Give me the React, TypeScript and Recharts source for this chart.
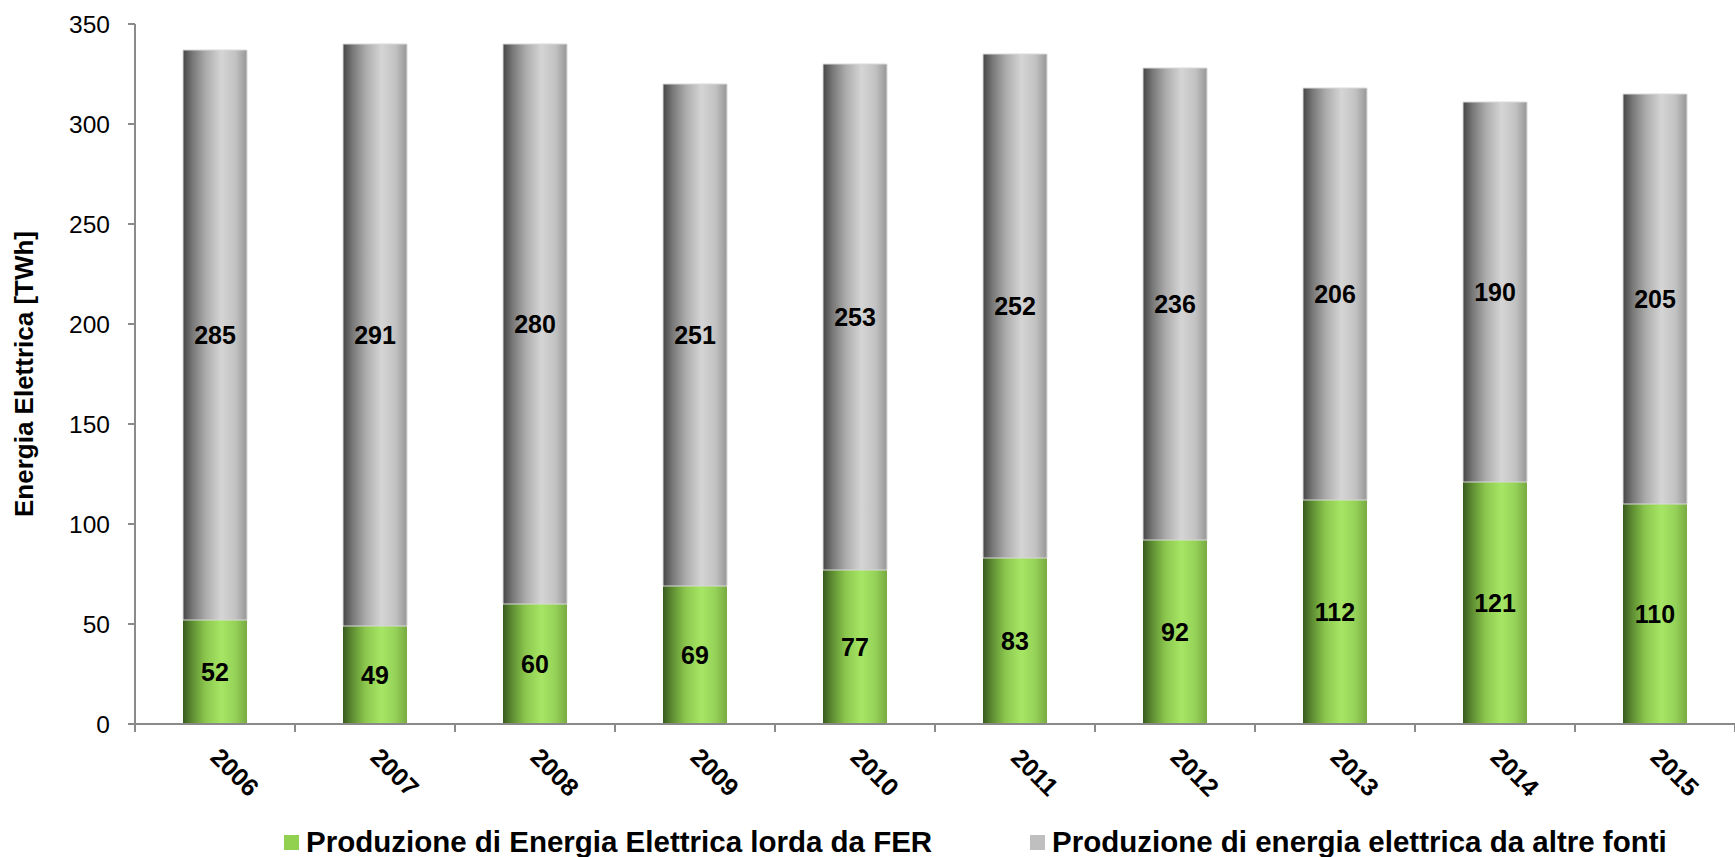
import React from 'react';
import { BarChart, Bar, XAxis, YAxis, Legend, LabelList } from 'recharts';

const years = ['2006', '2007', '2008', '2009', '2010', '2011', '2012', '2013', '2014', '2015'];
const ferValues = [52, 49, 60, 69, 77, 83, 92, 112, 121, 110];
const otherValues = [285, 291, 280, 251, 253, 252, 236, 206, 190, 205];
const yTicks = [0, 50, 100, 150, 200, 250, 300, 350];

const seriesNames = {
  fer: 'Produzione di Energia Elettrica lorda da FER',
  other: 'Produzione di energia elettrica da altre fonti',
};

const FONT = '"Liberation Sans", Arial, sans-serif';
const AXIS = '#8a8a8a';

const data = years.map((year, i) => ({ year, fer: ferValues[i], other: otherValues[i] }));

const XTick = (props: any) => {
  const { x, y, payload, index } = props;
  const half = payload && payload.offset ? payload.offset : 80;
  const last = index === years.length - 1;
  return (
    <g>
      <line x1={x - half} y1={y} x2={x - half} y2={y + 8} stroke={AXIS} strokeWidth={2} />
      {last && <line x1={x + half} y1={y} x2={x + half} y2={y + 8} stroke={AXIS} strokeWidth={2} />}
      <text
        x={x + 20}
        y={y + 48}
        transform={`rotate(45 ${x + 20} ${y + 48})`}
        textAnchor="middle"
        dominantBaseline="central"
        fontFamily={FONT}
        fontSize={25}
        fontWeight={700}
        fill="#000"
      >
        {payload.value}
      </text>
    </g>
  );
};

const YLabel = (props: any) => {
  const { viewBox } = props;
  const cy = viewBox.y + viewBox.height / 2;
  return (
    <text
      x={24}
      y={cy}
      transform={`rotate(-90 24 ${cy})`}
      textAnchor="middle"
      dominantBaseline="central"
      fontFamily={FONT}
      fontSize={26}
      fontWeight={700}
      fill="#000"
    >
      Energia Elettrica [TWh]
    </text>
  );
};

const LegendContent = () => {
  const items = [
    { name: seriesNames.fer, color: '#92d050', left: 284 },
    { name: seriesNames.other, color: '#bfbfbf', left: 1030 },
  ];
  return (
    <div style={{ position: 'relative', width: 1735, height: 40 }}>
      {items.map((it) => (
        <div
          key={it.name}
          style={{
            position: 'absolute',
            left: it.left,
            top: 10,
            height: 30,
            display: 'flex',
            alignItems: 'center',
            whiteSpace: 'nowrap',
          }}
        >
          <span style={{ width: 15, height: 15, background: it.color, display: 'inline-block', marginRight: 7 }} />
          <span style={{ fontFamily: FONT, fontSize: 29.5, fontWeight: 700, color: '#000', lineHeight: '30px' }}>
            {it.name}
          </span>
        </div>
      ))}
    </div>
  );
};

const labelStyle = { fontFamily: FONT, fontSize: 25, fontWeight: 700 };

export default function App() {
  return (
    <div style={{ position: 'absolute', left: 0, top: 0, width: 1735, height: 857, background: '#fff' }}>
      <BarChart
        width={1735}
        height={857}
        data={data}
        margin={{ top: 24, right: 0, bottom: 0, left: 0 }}
        barCategoryGap="30%"
      >
        <defs>
          <linearGradient id="grayGrad" x1="0" y1="0" x2="1" y2="0">
            <stop offset="0%" stopColor="#464646" />
            <stop offset="15%" stopColor="#787878" />
            <stop offset="35%" stopColor="#aaaaaa" />
            <stop offset="60%" stopColor="#d5d5d5" />
            <stop offset="82%" stopColor="#c2c2c2" />
            <stop offset="100%" stopColor="#979797" />
          </linearGradient>
          <linearGradient id="greenGrad" x1="0" y1="0" x2="1" y2="0">
            <stop offset="0%" stopColor="#3a5b1e" />
            <stop offset="15%" stopColor="#5f8f32" />
            <stop offset="35%" stopColor="#8bc74e" />
            <stop offset="60%" stopColor="#a6e664" />
            <stop offset="82%" stopColor="#95d158" />
            <stop offset="100%" stopColor="#78aa42" />
          </linearGradient>
        </defs>
        <XAxis
          dataKey="year"
          height={93}
          axisLine={{ stroke: AXIS, strokeWidth: 2 }}
          tickLine={false}
          tickSize={0}
          tickMargin={0}
          interval={0}
          tick={<XTick />}
        />
        <YAxis
          width={135}
          domain={[0, 350]}
          ticks={yTicks}
          interval={0}
          axisLine={{ stroke: AXIS, strokeWidth: 2 }}
          tickLine={{ stroke: AXIS, strokeWidth: 2 }}
          tickSize={7}
          tickMargin={18}
          tick={{ fontFamily: FONT, fontSize: 24.5, fill: '#000' }}
          label={<YLabel />}
        />
        <Legend verticalAlign="bottom" height={40} content={<LegendContent />} wrapperStyle={{ left: 0, bottom: 0 }} />
        <Bar
          dataKey="fer"
          name={seriesNames.fer}
          stackId="a"
          fill="url(#greenGrad)"
          isAnimationActive={false}
        >
          <LabelList dataKey="fer" position="center" fill="#000" style={labelStyle} />
        </Bar>
        <Bar
          dataKey="other"
          name={seriesNames.other}
          stackId="a"
          fill="url(#grayGrad)"
          stroke="#d9d9d9"
          strokeWidth={1}
          isAnimationActive={false}
        >
          <LabelList dataKey="other" position="center" fill="#000" style={labelStyle} />
        </Bar>
      </BarChart>
    </div>
  );
}
